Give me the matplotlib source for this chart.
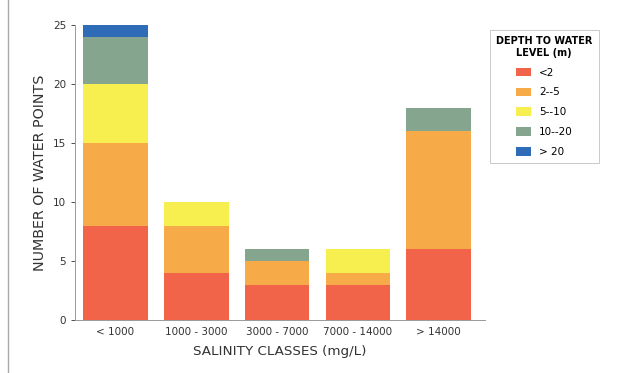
import matplotlib
matplotlib.use("Agg")
import matplotlib.pyplot as plt
from matplotlib.lines import Line2D

classes = ["< 1000", "1000 - 3000", "3000 - 7000", "7000 - 14000", "> 14000"]
depth_labels = ["<2", "2--5", "5--10", "10--20", "> 20"]
lt2 = [8, 4, 3, 3, 6]
d2_5 = [7, 4, 2, 1, 10]
d5_10 = [5, 2, 0, 2, 0]
d10_20 = [4, 0, 1, 0, 2]
gt20 = [1, 0, 0, 0, 0]
series = [lt2, d2_5, d5_10, d10_20, gt20]
colors = ["#f2644a", "#f6aa48", "#f7ee50", "#86a58e", "#2f6cb8"]

fig = plt.figure(figsize=(6.42, 3.73), dpi=100)
ax = fig.add_axes([0.117, 0.142, 0.638, 0.791])

x = range(len(classes))
bottom = [0] * len(classes)
for vals, col, lab in zip(series, colors, depth_labels):
    ax.bar(x, vals, 0.8, bottom=bottom, color=col, label=lab)
    bottom = [b + v for b, v in zip(bottom, vals)]

ax.set_xlim(-0.5, 4.57)
ax.set_ylim(0, 25)
ax.set_yticks([0, 5, 10, 15, 20, 25])
ax.set_xticks(list(x))
ax.set_xticklabels(classes)
ax.tick_params(axis="both", labelsize=7.5, colors="#333333", length=3, width=0.6)
ax.tick_params(axis="x", length=0, pad=5)
for s in ["top", "right"]:
    ax.spines[s].set_visible(False)
for s in ["left", "bottom"]:
    ax.spines[s].set_color("#999999")
    ax.spines[s].set_linewidth(0.7)

ax.set_ylabel("NUMBER OF WATER POINTS", fontsize=10.3, color="#333333")
ax.set_xlabel("SALINITY CLASSES (mg/L)", fontsize=9.7, color="#333333", labelpad=6)

leg = ax.legend(loc="upper left", bbox_to_anchor=(0.763, 0.92),
                bbox_transform=fig.transFigure, fontsize=7.5, frameon=True,
                fancybox=False, handlelength=1.4, handleheight=0.9,
                labelspacing=0.95, borderpad=0.6, borderaxespad=0,
                title="DEPTH TO WATER\nLEVEL (m)",
                title_fontproperties={"weight": "bold", "size": 7})
leg.get_title().set_multialignment("center")
leg.get_frame().set_edgecolor("#bbbbbb")
leg.get_frame().set_linewidth(0.7)

fig.add_artist(Line2D([0.013, 0.013], [0.0, 1.0], color="#aaaaaa", lw=1,
                      transform=fig.transFigure))

fig.savefig("out.png", dpi=100)
